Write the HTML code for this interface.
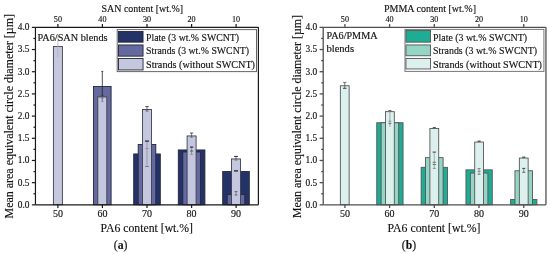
<!DOCTYPE html>
<html><head><meta charset="utf-8"><style>
html,body{margin:0;padding:0;background:#fff;width:550px;height:254px;overflow:hidden}
svg{display:block}
text{font-family:"Liberation Serif",serif}
svg{will-change:transform}
text{stroke:#1a1a1a;stroke-width:0.15px}
</style></head><body>
<svg width="550" height="254" viewBox="0 0 550 254">
<rect width="550" height="254" fill="#fff"/>
<rect x="53.40" y="46.45" width="9.00" height="158.25" fill="#c5c7de" stroke="#3c3e52" stroke-width="0.9"/>
<line x1="57.90" y1="36.00" x2="57.90" y2="57.00" stroke="#b0b0b8" stroke-width="0.8"/>
<rect x="93.50" y="86.45" width="17.60" height="118.25" fill="#646a9f" stroke="#262638" stroke-width="0.9"/>
<rect x="97.80" y="96.95" width="9.00" height="107.75" fill="#c5c7de" stroke="#3c3e52" stroke-width="0.9"/>
<line x1="102.30" y1="71.20" x2="102.30" y2="97.00" stroke="#222" stroke-width="0.8"/>
<line x1="101.30" y1="71.40" x2="103.30" y2="71.40" stroke="#333" stroke-width="0.8"/>
<line x1="102.30" y1="95.00" x2="102.30" y2="101.50" stroke="#555" stroke-width="0.7"/>
<line x1="100.80" y1="95.30" x2="103.80" y2="95.30" stroke="#444" stroke-width="0.9"/>
<line x1="100.80" y1="98.60" x2="103.80" y2="98.60" stroke="#888" stroke-width="0.7"/>
<line x1="100.80" y1="101.60" x2="103.80" y2="101.60" stroke="#888" stroke-width="0.7"/>
<rect x="133.70" y="153.95" width="26.60" height="50.75" fill="#233368" stroke="#262638" stroke-width="0.9"/>
<rect x="138.20" y="144.45" width="17.60" height="60.25" fill="#646a9f" stroke="#262638" stroke-width="0.9"/>
<rect x="142.50" y="109.45" width="9.00" height="95.25" fill="#c5c7de" stroke="#3c3e52" stroke-width="0.9"/>
<line x1="147.00" y1="106.50" x2="147.00" y2="111.50" stroke="#444" stroke-width="0.7"/>
<line x1="145.25" y1="106.60" x2="148.75" y2="106.60" stroke="#444" stroke-width="0.9"/>
<line x1="145.50" y1="111.00" x2="148.50" y2="111.00" stroke="#666" stroke-width="0.8"/>
<line x1="147.00" y1="141.00" x2="147.00" y2="166.50" stroke="#888" stroke-width="0.7"/>
<line x1="145.00" y1="141.10" x2="149.00" y2="141.10" stroke="#2a2a40" stroke-width="1.3"/>
<line x1="145.25" y1="148.50" x2="148.75" y2="148.50" stroke="#8a8aa0" stroke-width="0.8"/>
<line x1="145.00" y1="166.50" x2="149.00" y2="166.50" stroke="#777" stroke-width="0.9"/>
<rect x="178.30" y="149.95" width="26.60" height="54.75" fill="#233368" stroke="#262638" stroke-width="0.9"/>
<rect x="182.80" y="151.95" width="17.60" height="52.75" fill="#646a9f" stroke="#262638" stroke-width="0.9"/>
<rect x="187.10" y="135.95" width="9.00" height="68.75" fill="#c5c7de" stroke="#3c3e52" stroke-width="0.9"/>
<line x1="191.60" y1="133.00" x2="191.60" y2="137.50" stroke="#444" stroke-width="0.7"/>
<line x1="190.00" y1="133.00" x2="193.20" y2="133.00" stroke="#444" stroke-width="0.9"/>
<line x1="190.10" y1="137.40" x2="193.10" y2="137.40" stroke="#777" stroke-width="0.7"/>
<line x1="191.60" y1="147.00" x2="191.60" y2="154.50" stroke="#777" stroke-width="0.7"/>
<line x1="190.00" y1="147.10" x2="193.20" y2="147.10" stroke="#2a2a40" stroke-width="1.2"/>
<line x1="190.00" y1="151.00" x2="193.20" y2="151.00" stroke="#555" stroke-width="0.9"/>
<line x1="190.10" y1="154.50" x2="193.10" y2="154.50" stroke="#888" stroke-width="0.7"/>
<rect x="222.70" y="171.45" width="26.60" height="33.25" fill="#233368" stroke="#262638" stroke-width="0.9"/>
<rect x="227.20" y="194.45" width="17.60" height="10.25" fill="#646a9f" stroke="#262638" stroke-width="0.9"/>
<rect x="231.50" y="158.95" width="9.00" height="45.75" fill="#c5c7de" stroke="#3c3e52" stroke-width="0.9"/>
<line x1="236.00" y1="156.40" x2="236.00" y2="160.20" stroke="#444" stroke-width="0.7"/>
<line x1="234.00" y1="156.40" x2="238.00" y2="156.40" stroke="#333" stroke-width="1.0"/>
<line x1="234.50" y1="160.20" x2="237.50" y2="160.20" stroke="#777" stroke-width="0.7"/>
<line x1="234.00" y1="170.90" x2="238.00" y2="170.90" stroke="#2a2a40" stroke-width="1.4"/>
<line x1="236.00" y1="191.50" x2="236.00" y2="195.00" stroke="#666" stroke-width="0.7"/>
<line x1="234.50" y1="191.60" x2="237.50" y2="191.60" stroke="#555" stroke-width="0.8"/>
<line x1="234.50" y1="195.00" x2="237.50" y2="195.00" stroke="#555" stroke-width="0.8"/>
<rect x="117.20" y="29.60" width="139.30" height="42.00" fill="#fff" stroke="#666" stroke-width="1.0"/>
<rect x="118.45" y="31.45" width="24.60" height="10.70" fill="#233368" stroke="#262638" stroke-width="0.9"/>
<text x="146.00" y="40.60" font-size="9.8" fill="#111" text-anchor="start" font-weight="normal" textLength="93" lengthAdjust="spacingAndGlyphs">Plate (3 wt.% SWCNT)</text>
<rect x="118.45" y="44.95" width="24.60" height="11.20" fill="#646a9f" stroke="#262638" stroke-width="0.9"/>
<text x="146.00" y="54.10" font-size="9.8" fill="#111" text-anchor="start" font-weight="normal" textLength="103" lengthAdjust="spacingAndGlyphs">Strands (3 wt.% SWCNT)</text>
<rect x="118.45" y="58.45" width="24.60" height="11.50" fill="#c5c7de" stroke="#262638" stroke-width="0.9"/>
<text x="146.00" y="67.60" font-size="9.8" fill="#111" text-anchor="start" font-weight="normal" textLength="109" lengthAdjust="spacingAndGlyphs">Strands (without SWCNT)</text>
<line x1="35.45" y1="27.35" x2="258.40" y2="27.35" stroke="#1a1a1a" stroke-width="1.2"/>
<line x1="35.45" y1="204.85" x2="258.40" y2="204.85" stroke="#1a1a1a" stroke-width="1.2"/>
<line x1="35.45" y1="27.35" x2="35.45" y2="204.85" stroke="#1a1a1a" stroke-width="1.2"/>
<line x1="258.40" y1="27.35" x2="258.40" y2="204.85" stroke="#1a1a1a" stroke-width="1.2"/>
<line x1="31.85" y1="204.85" x2="35.45" y2="204.85" stroke="#1a1a1a" stroke-width="1.2"/>
<text x="29.45" y="207.70" font-size="9.4" fill="#111" text-anchor="end" font-weight="normal">0.0</text>
<line x1="33.45" y1="193.76" x2="35.45" y2="193.76" stroke="#1a1a1a" stroke-width="1.2"/>
<line x1="31.85" y1="182.66" x2="35.45" y2="182.66" stroke="#1a1a1a" stroke-width="1.2"/>
<text x="29.45" y="185.51" font-size="9.4" fill="#111" text-anchor="end" font-weight="normal">0.5</text>
<line x1="33.45" y1="171.57" x2="35.45" y2="171.57" stroke="#1a1a1a" stroke-width="1.2"/>
<line x1="31.85" y1="160.47" x2="35.45" y2="160.47" stroke="#1a1a1a" stroke-width="1.2"/>
<text x="29.45" y="163.32" font-size="9.4" fill="#111" text-anchor="end" font-weight="normal">1.0</text>
<line x1="33.45" y1="149.38" x2="35.45" y2="149.38" stroke="#1a1a1a" stroke-width="1.2"/>
<line x1="31.85" y1="138.29" x2="35.45" y2="138.29" stroke="#1a1a1a" stroke-width="1.2"/>
<text x="29.45" y="141.14" font-size="9.4" fill="#111" text-anchor="end" font-weight="normal">1.5</text>
<line x1="33.45" y1="127.19" x2="35.45" y2="127.19" stroke="#1a1a1a" stroke-width="1.2"/>
<line x1="31.85" y1="116.10" x2="35.45" y2="116.10" stroke="#1a1a1a" stroke-width="1.2"/>
<text x="29.45" y="118.95" font-size="9.4" fill="#111" text-anchor="end" font-weight="normal">2.0</text>
<line x1="33.45" y1="105.01" x2="35.45" y2="105.01" stroke="#1a1a1a" stroke-width="1.2"/>
<line x1="31.85" y1="93.91" x2="35.45" y2="93.91" stroke="#1a1a1a" stroke-width="1.2"/>
<text x="29.45" y="96.76" font-size="9.4" fill="#111" text-anchor="end" font-weight="normal">2.5</text>
<line x1="33.45" y1="82.82" x2="35.45" y2="82.82" stroke="#1a1a1a" stroke-width="1.2"/>
<line x1="31.85" y1="71.72" x2="35.45" y2="71.72" stroke="#1a1a1a" stroke-width="1.2"/>
<text x="29.45" y="74.57" font-size="9.4" fill="#111" text-anchor="end" font-weight="normal">3.0</text>
<line x1="33.45" y1="60.63" x2="35.45" y2="60.63" stroke="#1a1a1a" stroke-width="1.2"/>
<line x1="31.85" y1="49.54" x2="35.45" y2="49.54" stroke="#1a1a1a" stroke-width="1.2"/>
<text x="29.45" y="52.39" font-size="9.4" fill="#111" text-anchor="end" font-weight="normal">3.5</text>
<line x1="33.45" y1="38.44" x2="35.45" y2="38.44" stroke="#1a1a1a" stroke-width="1.2"/>
<line x1="31.85" y1="27.35" x2="35.45" y2="27.35" stroke="#1a1a1a" stroke-width="1.2"/>
<text x="29.45" y="30.20" font-size="9.4" fill="#111" text-anchor="end" font-weight="normal">4.0</text>
<line x1="57.90" y1="204.85" x2="57.90" y2="207.95" stroke="#1a1a1a" stroke-width="1.2"/>
<text x="57.90" y="217.30" font-size="10.0" fill="#111" text-anchor="middle" font-weight="normal">50</text>
<line x1="57.90" y1="24.05" x2="57.90" y2="27.35" stroke="#1a1a1a" stroke-width="1.2"/>
<text x="57.90" y="21.60" font-size="8.1" fill="#111" text-anchor="middle" font-weight="normal">50</text>
<line x1="102.40" y1="204.85" x2="102.40" y2="207.95" stroke="#1a1a1a" stroke-width="1.2"/>
<text x="102.40" y="217.30" font-size="10.0" fill="#111" text-anchor="middle" font-weight="normal">60</text>
<line x1="102.40" y1="24.05" x2="102.40" y2="27.35" stroke="#1a1a1a" stroke-width="1.2"/>
<text x="102.40" y="21.60" font-size="8.1" fill="#111" text-anchor="middle" font-weight="normal">40</text>
<line x1="147.00" y1="204.85" x2="147.00" y2="207.95" stroke="#1a1a1a" stroke-width="1.2"/>
<text x="147.00" y="217.30" font-size="10.0" fill="#111" text-anchor="middle" font-weight="normal">70</text>
<line x1="147.00" y1="24.05" x2="147.00" y2="27.35" stroke="#1a1a1a" stroke-width="1.2"/>
<text x="147.00" y="21.60" font-size="8.1" fill="#111" text-anchor="middle" font-weight="normal">30</text>
<line x1="191.60" y1="204.85" x2="191.60" y2="207.95" stroke="#1a1a1a" stroke-width="1.2"/>
<text x="191.60" y="217.30" font-size="10.0" fill="#111" text-anchor="middle" font-weight="normal">80</text>
<line x1="191.60" y1="24.05" x2="191.60" y2="27.35" stroke="#1a1a1a" stroke-width="1.2"/>
<text x="191.60" y="21.60" font-size="8.1" fill="#111" text-anchor="middle" font-weight="normal">20</text>
<line x1="236.10" y1="204.85" x2="236.10" y2="207.95" stroke="#1a1a1a" stroke-width="1.2"/>
<text x="236.10" y="217.30" font-size="10.0" fill="#111" text-anchor="middle" font-weight="normal">90</text>
<line x1="236.10" y1="24.05" x2="236.10" y2="27.35" stroke="#1a1a1a" stroke-width="1.2"/>
<text x="236.10" y="21.60" font-size="8.1" fill="#111" text-anchor="middle" font-weight="normal">10</text>
<text x="101.50" y="11.90" font-size="9.8" fill="#111" text-anchor="start" font-weight="normal" textLength="81.5" lengthAdjust="spacingAndGlyphs">SAN content [wt.%]</text>
<text x="100.50" y="231.60" font-size="12.1" fill="#111" text-anchor="start" font-weight="normal" textLength="92.5" lengthAdjust="spacingAndGlyphs">PA6 content [wt.%]</text>
<text x="37.50" y="40.60" font-size="9.6" fill="#111" text-anchor="start" font-weight="normal" textLength="70" lengthAdjust="spacingAndGlyphs">PA6/SAN blends</text>
<text x="113.80" y="248.80" font-size="11.8" fill="#111" text-anchor="start" font-weight="normal" textLength="13.7" lengthAdjust="spacingAndGlyphs">(<tspan font-weight="bold">a</tspan>)</text>
<text transform="translate(13.00,218.50) rotate(-90)" font-size="12.0" fill="#111" textLength="204.5" lengthAdjust="spacingAndGlyphs">Mean area equivalent circle diameter [µm]</text>
<rect x="340.35" y="85.75" width="8.80" height="118.95" fill="#dcf1ed" stroke="#555" stroke-width="0.9"/>
<line x1="344.75" y1="82.40" x2="344.75" y2="88.30" stroke="#555" stroke-width="0.8"/>
<line x1="343.10" y1="82.40" x2="346.40" y2="82.40" stroke="#666" stroke-width="0.9"/>
<line x1="343.00" y1="88.30" x2="346.50" y2="88.30" stroke="#444" stroke-width="1.0"/>
<rect x="376.75" y="122.75" width="26.30" height="81.95" fill="#1fac95" stroke="#555" stroke-width="0.9"/>
<rect x="381.10" y="122.75" width="17.60" height="81.95" fill="#94d5c5" stroke="#555" stroke-width="0.9"/>
<rect x="385.50" y="111.65" width="8.80" height="93.05" fill="#dcf1ed" stroke="#555" stroke-width="0.9"/>
<line x1="388.40" y1="110.90" x2="391.40" y2="110.90" stroke="#555" stroke-width="1.6"/>
<line x1="389.90" y1="111.00" x2="389.90" y2="127.00" stroke="#999" stroke-width="0.9"/>
<line x1="388.40" y1="121.20" x2="391.40" y2="121.20" stroke="#888" stroke-width="0.9"/>
<line x1="388.40" y1="123.40" x2="391.40" y2="123.40" stroke="#666" stroke-width="0.9"/>
<rect x="421.15" y="167.35" width="26.30" height="37.35" fill="#1fac95" stroke="#555" stroke-width="0.9"/>
<rect x="425.50" y="157.65" width="17.60" height="47.05" fill="#94d5c5" stroke="#555" stroke-width="0.9"/>
<rect x="429.90" y="128.45" width="8.80" height="76.25" fill="#dcf1ed" stroke="#555" stroke-width="0.9"/>
<line x1="432.80" y1="127.70" x2="435.80" y2="127.70" stroke="#555" stroke-width="1.5"/>
<line x1="434.30" y1="152.00" x2="434.30" y2="168.40" stroke="#999" stroke-width="0.8"/>
<line x1="432.55" y1="152.10" x2="436.05" y2="152.10" stroke="#555" stroke-width="1.1"/>
<line x1="432.65" y1="162.30" x2="435.95" y2="162.30" stroke="#666" stroke-width="0.9"/>
<line x1="432.65" y1="164.50" x2="435.95" y2="164.50" stroke="#666" stroke-width="0.9"/>
<line x1="432.80" y1="168.40" x2="435.80" y2="168.40" stroke="#777" stroke-width="0.8"/>
<rect x="465.95" y="169.85" width="26.30" height="34.85" fill="#1fac95" stroke="#555" stroke-width="0.9"/>
<rect x="470.30" y="173.05" width="17.60" height="31.65" fill="#94d5c5" stroke="#555" stroke-width="0.9"/>
<rect x="474.70" y="142.05" width="8.80" height="62.65" fill="#dcf1ed" stroke="#555" stroke-width="0.9"/>
<line x1="477.60" y1="141.30" x2="480.60" y2="141.30" stroke="#555" stroke-width="1.5"/>
<line x1="479.10" y1="168.70" x2="479.10" y2="174.20" stroke="#999" stroke-width="0.8"/>
<line x1="477.60" y1="168.70" x2="480.60" y2="168.70" stroke="#666" stroke-width="0.9"/>
<line x1="477.60" y1="171.30" x2="480.60" y2="171.30" stroke="#777" stroke-width="0.9"/>
<line x1="477.60" y1="174.20" x2="480.60" y2="174.20" stroke="#666" stroke-width="0.9"/>
<rect x="510.60" y="199.45" width="26.30" height="5.25" fill="#1fac95" stroke="#555" stroke-width="0.9"/>
<rect x="514.95" y="170.75" width="17.60" height="33.95" fill="#94d5c5" stroke="#555" stroke-width="0.9"/>
<rect x="519.35" y="158.05" width="8.80" height="46.65" fill="#dcf1ed" stroke="#555" stroke-width="0.9"/>
<line x1="522.25" y1="157.30" x2="525.25" y2="157.30" stroke="#555" stroke-width="1.5"/>
<line x1="523.75" y1="168.40" x2="523.75" y2="172.30" stroke="#666" stroke-width="0.8"/>
<line x1="522.25" y1="168.40" x2="525.25" y2="168.40" stroke="#444" stroke-width="1.0"/>
<line x1="522.25" y1="172.30" x2="525.25" y2="172.30" stroke="#555" stroke-width="0.9"/>
<rect x="405.00" y="29.40" width="138.90" height="42.00" fill="#fff" stroke="#777" stroke-width="1.0"/>
<rect x="405.95" y="30.45" width="24.60" height="11.70" fill="#1fac95" stroke="#555" stroke-width="0.9"/>
<text x="433.00" y="40.60" font-size="9.8" fill="#111" text-anchor="start" font-weight="normal" textLength="94" lengthAdjust="spacingAndGlyphs">Plate (3 wt.% SWCNT)</text>
<rect x="405.95" y="44.95" width="24.60" height="10.80" fill="#94d5c5" stroke="#555" stroke-width="0.9"/>
<text x="433.00" y="54.10" font-size="9.8" fill="#111" text-anchor="start" font-weight="normal" textLength="104" lengthAdjust="spacingAndGlyphs">Strands (3 wt.% SWCNT)</text>
<rect x="405.95" y="58.45" width="24.60" height="10.50" fill="#dcf1ed" stroke="#555" stroke-width="0.9"/>
<text x="433.00" y="67.60" font-size="9.8" fill="#111" text-anchor="start" font-weight="normal" textLength="109" lengthAdjust="spacingAndGlyphs">Strands (without SWCNT)</text>
<line x1="323.20" y1="27.35" x2="545.95" y2="27.35" stroke="#505050" stroke-width="1.3"/>
<line x1="323.20" y1="204.85" x2="545.95" y2="204.85" stroke="#505050" stroke-width="1.3"/>
<line x1="323.20" y1="27.35" x2="323.20" y2="204.85" stroke="#505050" stroke-width="1.3"/>
<line x1="545.95" y1="27.35" x2="545.95" y2="204.85" stroke="#505050" stroke-width="1.3"/>
<line x1="319.60" y1="204.85" x2="323.20" y2="204.85" stroke="#505050" stroke-width="1.3"/>
<text x="317.20" y="207.70" font-size="9.4" fill="#111" text-anchor="end" font-weight="normal">0.0</text>
<line x1="321.20" y1="193.76" x2="323.20" y2="193.76" stroke="#505050" stroke-width="1.3"/>
<line x1="319.60" y1="182.66" x2="323.20" y2="182.66" stroke="#505050" stroke-width="1.3"/>
<text x="317.20" y="185.51" font-size="9.4" fill="#111" text-anchor="end" font-weight="normal">0.5</text>
<line x1="321.20" y1="171.57" x2="323.20" y2="171.57" stroke="#505050" stroke-width="1.3"/>
<line x1="319.60" y1="160.47" x2="323.20" y2="160.47" stroke="#505050" stroke-width="1.3"/>
<text x="317.20" y="163.32" font-size="9.4" fill="#111" text-anchor="end" font-weight="normal">1.0</text>
<line x1="321.20" y1="149.38" x2="323.20" y2="149.38" stroke="#505050" stroke-width="1.3"/>
<line x1="319.60" y1="138.29" x2="323.20" y2="138.29" stroke="#505050" stroke-width="1.3"/>
<text x="317.20" y="141.14" font-size="9.4" fill="#111" text-anchor="end" font-weight="normal">1.5</text>
<line x1="321.20" y1="127.19" x2="323.20" y2="127.19" stroke="#505050" stroke-width="1.3"/>
<line x1="319.60" y1="116.10" x2="323.20" y2="116.10" stroke="#505050" stroke-width="1.3"/>
<text x="317.20" y="118.95" font-size="9.4" fill="#111" text-anchor="end" font-weight="normal">2.0</text>
<line x1="321.20" y1="105.01" x2="323.20" y2="105.01" stroke="#505050" stroke-width="1.3"/>
<line x1="319.60" y1="93.91" x2="323.20" y2="93.91" stroke="#505050" stroke-width="1.3"/>
<text x="317.20" y="96.76" font-size="9.4" fill="#111" text-anchor="end" font-weight="normal">2.5</text>
<line x1="321.20" y1="82.82" x2="323.20" y2="82.82" stroke="#505050" stroke-width="1.3"/>
<line x1="319.60" y1="71.72" x2="323.20" y2="71.72" stroke="#505050" stroke-width="1.3"/>
<text x="317.20" y="74.57" font-size="9.4" fill="#111" text-anchor="end" font-weight="normal">3.0</text>
<line x1="321.20" y1="60.63" x2="323.20" y2="60.63" stroke="#505050" stroke-width="1.3"/>
<line x1="319.60" y1="49.54" x2="323.20" y2="49.54" stroke="#505050" stroke-width="1.3"/>
<text x="317.20" y="52.39" font-size="9.4" fill="#111" text-anchor="end" font-weight="normal">3.5</text>
<line x1="321.20" y1="38.44" x2="323.20" y2="38.44" stroke="#505050" stroke-width="1.3"/>
<line x1="319.60" y1="27.35" x2="323.20" y2="27.35" stroke="#505050" stroke-width="1.3"/>
<text x="317.20" y="30.20" font-size="9.4" fill="#111" text-anchor="end" font-weight="normal">4.0</text>
<line x1="344.90" y1="204.85" x2="344.90" y2="207.95" stroke="#505050" stroke-width="1.3"/>
<text x="344.90" y="217.30" font-size="10.0" fill="#111" text-anchor="middle" font-weight="normal">50</text>
<line x1="344.90" y1="24.05" x2="344.90" y2="27.35" stroke="#505050" stroke-width="1.3"/>
<text x="344.90" y="21.60" font-size="8.1" fill="#111" text-anchor="middle" font-weight="normal">50</text>
<line x1="389.60" y1="204.85" x2="389.60" y2="207.95" stroke="#505050" stroke-width="1.3"/>
<text x="389.60" y="217.30" font-size="10.0" fill="#111" text-anchor="middle" font-weight="normal">60</text>
<line x1="389.60" y1="24.05" x2="389.60" y2="27.35" stroke="#505050" stroke-width="1.3"/>
<text x="389.60" y="21.60" font-size="8.1" fill="#111" text-anchor="middle" font-weight="normal">40</text>
<line x1="434.30" y1="204.85" x2="434.30" y2="207.95" stroke="#505050" stroke-width="1.3"/>
<text x="434.30" y="217.30" font-size="10.0" fill="#111" text-anchor="middle" font-weight="normal">70</text>
<line x1="434.30" y1="24.05" x2="434.30" y2="27.35" stroke="#505050" stroke-width="1.3"/>
<text x="434.30" y="21.60" font-size="8.1" fill="#111" text-anchor="middle" font-weight="normal">30</text>
<line x1="479.00" y1="204.85" x2="479.00" y2="207.95" stroke="#505050" stroke-width="1.3"/>
<text x="479.00" y="217.30" font-size="10.0" fill="#111" text-anchor="middle" font-weight="normal">80</text>
<line x1="479.00" y1="24.05" x2="479.00" y2="27.35" stroke="#505050" stroke-width="1.3"/>
<text x="479.00" y="21.60" font-size="8.1" fill="#111" text-anchor="middle" font-weight="normal">20</text>
<line x1="523.75" y1="204.85" x2="523.75" y2="207.95" stroke="#505050" stroke-width="1.3"/>
<text x="523.75" y="217.30" font-size="10.0" fill="#111" text-anchor="middle" font-weight="normal">90</text>
<line x1="523.75" y1="24.05" x2="523.75" y2="27.35" stroke="#505050" stroke-width="1.3"/>
<text x="523.75" y="21.60" font-size="8.1" fill="#111" text-anchor="middle" font-weight="normal">10</text>
<text x="384.00" y="12.20" font-size="9.8" fill="#111" text-anchor="start" font-weight="normal" textLength="92" lengthAdjust="spacingAndGlyphs">PMMA content [wt.%]</text>
<text x="387.60" y="231.60" font-size="12.1" fill="#111" text-anchor="start" font-weight="normal" textLength="92.9" lengthAdjust="spacingAndGlyphs">PA6 content [wt.%]</text>
<text x="326.50" y="39.20" font-size="9.6" fill="#111" text-anchor="start" font-weight="normal" textLength="51" lengthAdjust="spacingAndGlyphs">PA6/PMMA</text>
<text x="326.50" y="52.30" font-size="9.6" fill="#111" text-anchor="start" font-weight="normal" textLength="27.5" lengthAdjust="spacingAndGlyphs">blends</text>
<text x="401.80" y="248.80" font-size="11.8" fill="#111" text-anchor="start" font-weight="normal" textLength="14.3" lengthAdjust="spacingAndGlyphs">(<tspan font-weight="bold">b</tspan>)</text>
<text transform="translate(300.50,218.00) rotate(-90)" font-size="12.0" fill="#111" textLength="203" lengthAdjust="spacingAndGlyphs">Mean area equivalent circle diameter [µm]</text>
</svg></body></html>
